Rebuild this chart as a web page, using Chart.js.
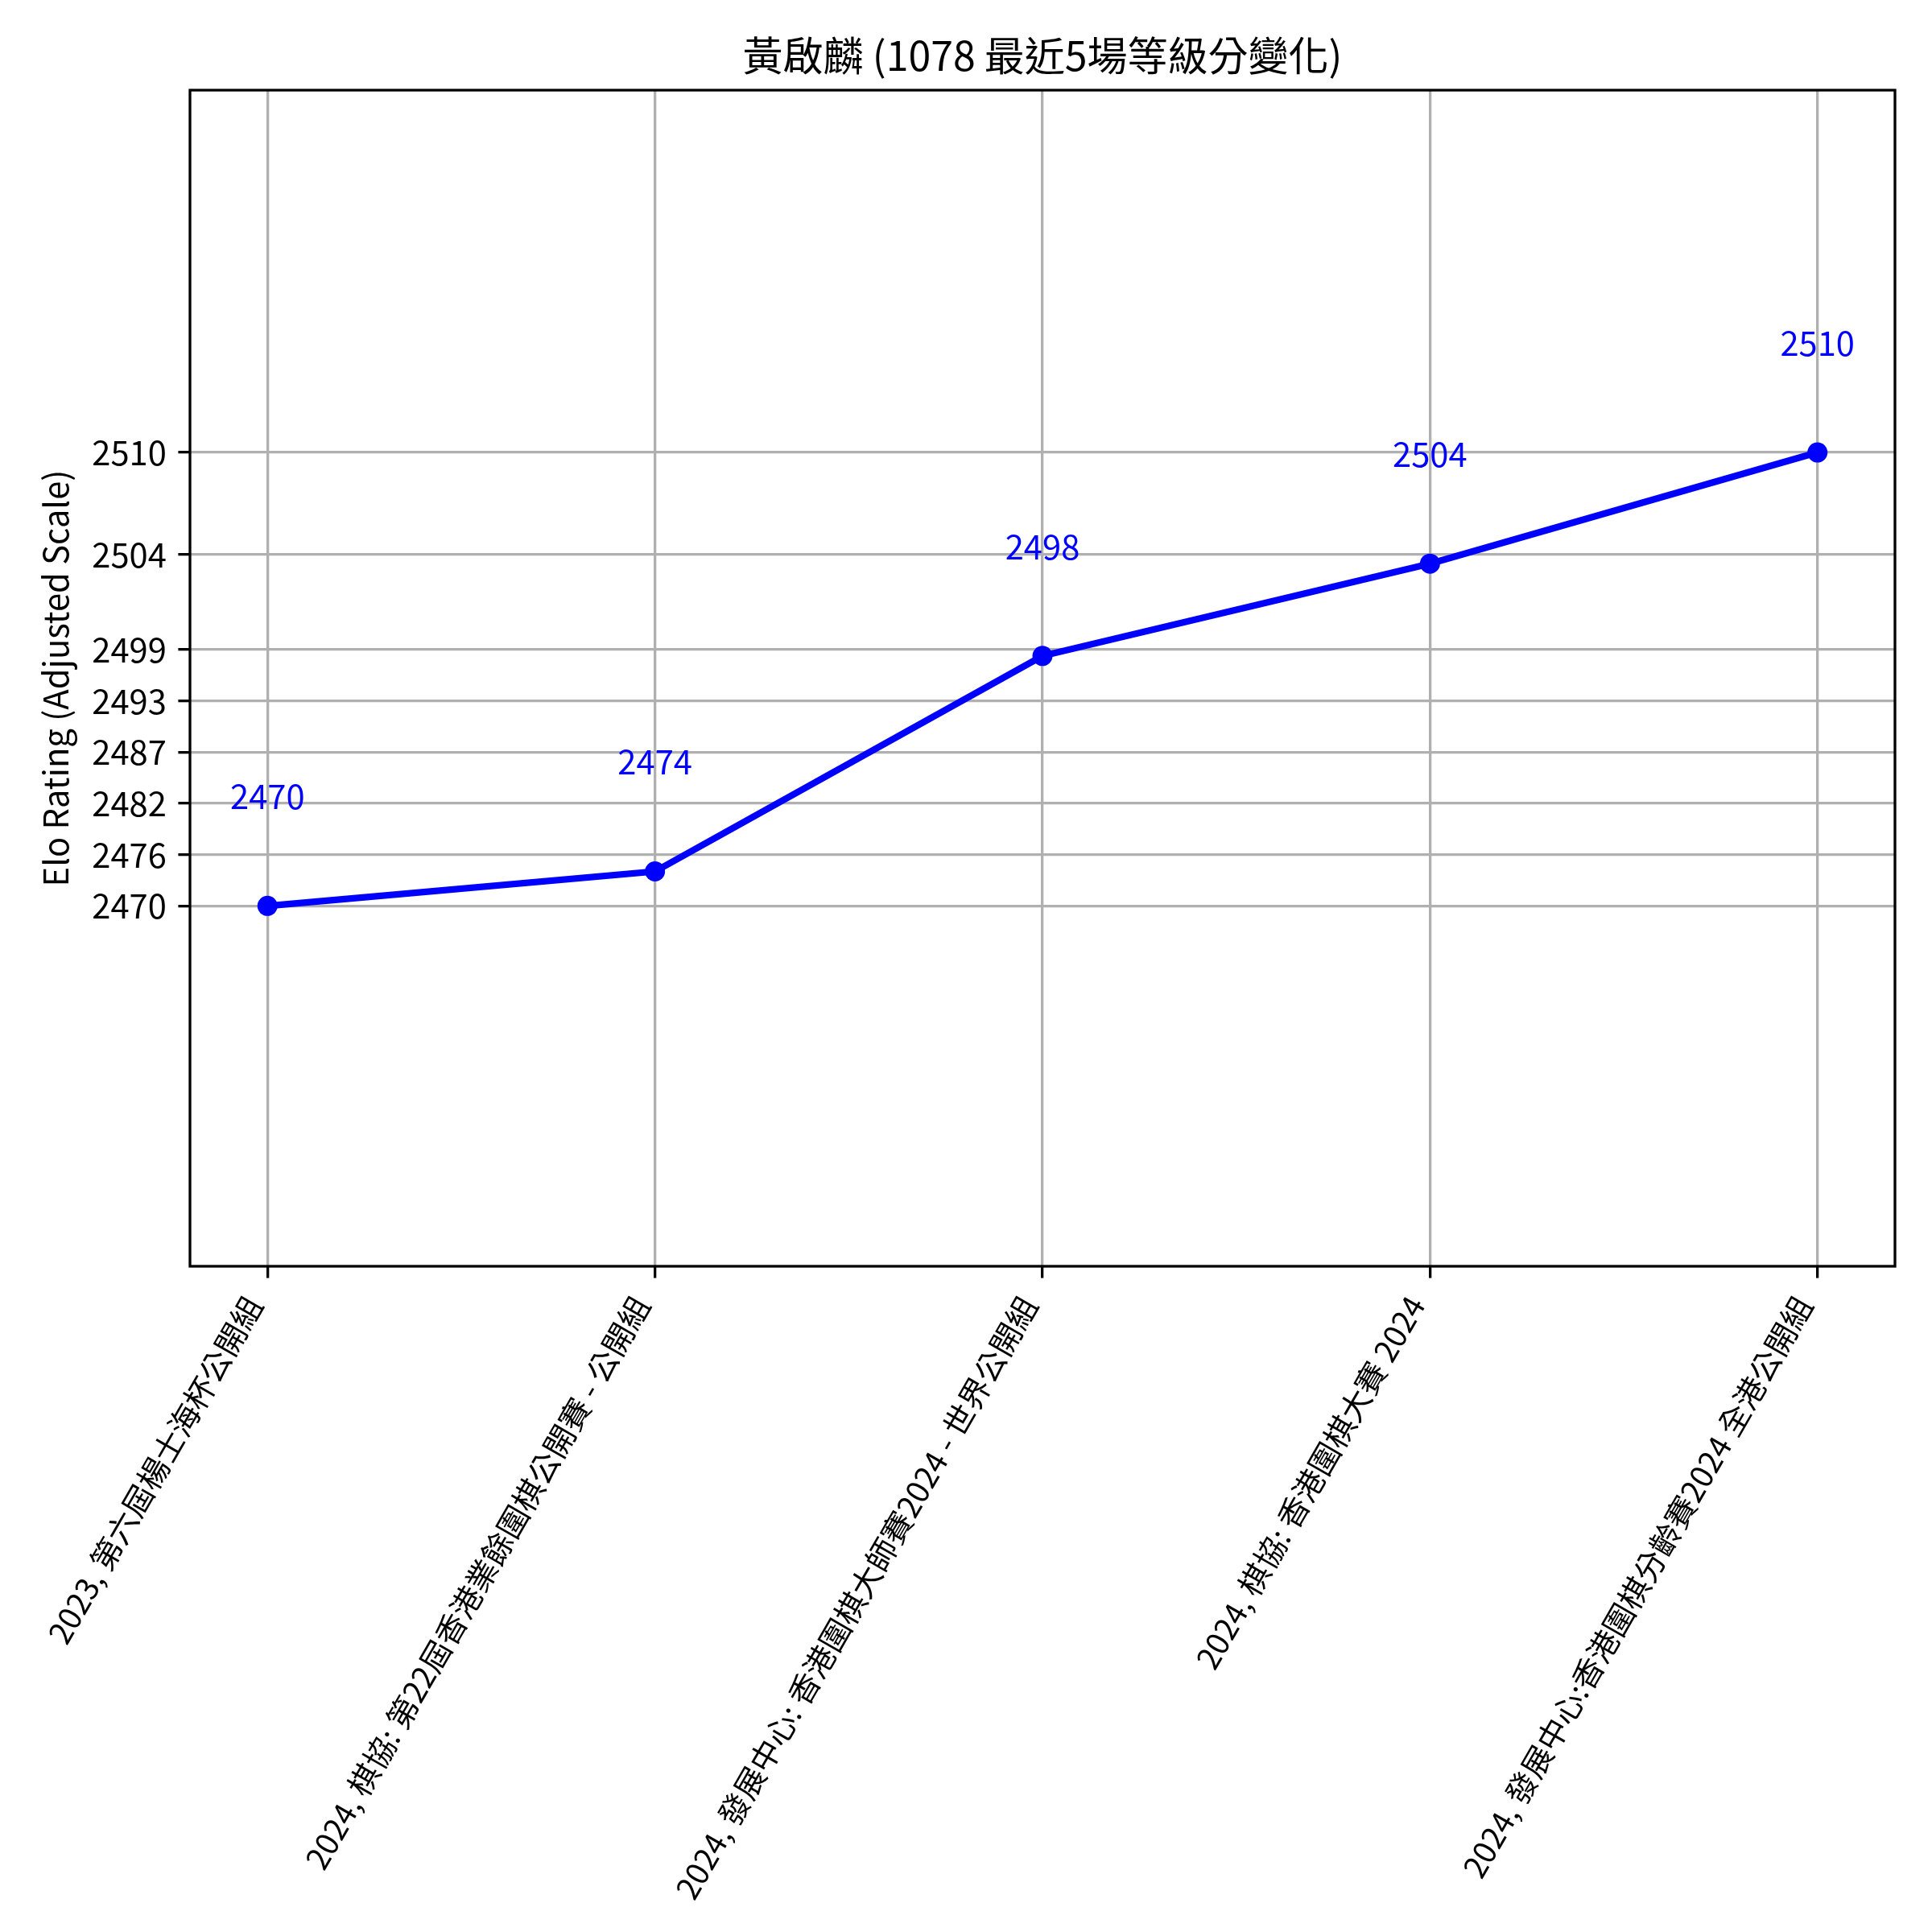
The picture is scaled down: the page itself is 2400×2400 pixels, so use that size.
<!DOCTYPE html>
<html>
<head>
<meta charset="utf-8">
<script src="https://cdn.jsdelivr.net/npm/chart.js@4.4.1/dist/chart.umd.min.js"></script>
<style>
  body { margin: 0; background: #fff; }
  canvas { display: block; }
</style>
</head>
<body>
<canvas id="elo" width="2400" height="2400"></canvas>
<script>
const chartTitle = '黃啟麟 (1078 最近5場等級分變化)';
const events = [
    '2023, 第六屆楊士海杯公開組',
    '2024, 棋協: 第22屆香港業餘圍棋公開賽 - 公開組',
    '2024, 發展中心: 香港圍棋大師賽2024 - 世界公開組',
    '2024, 棋協: 香港圍棋大賽 2024',
    '2024, 發展中心:香港圍棋分齡賽2024 全港公開組'
];
const ratings = [2470, 2473.9, 2498.3, 2503.8, 2510];
const yTickValues = [2470, 2475.8, 2481.6, 2487.4, 2493.2, 2499, 2504.3, 2510];
const yTickLabels = ['2470', '2476', '2482', '2487', '2493', '2499', '2504', '2510'];

const CJK = '"Noto Sans CJK TC", "Noto Sans", sans-serif';

// "adjusted scale": everything below 2499 is squeezed
const Y_BREAK = 2499;
const LOWER_WEIGHT = 0.4925;

function adjust(v) {
    return v <= Y_BREAK ? (v - Y_BREAK) * LOWER_WEIGHT : v - Y_BREAK;
}
function unadjust(t) {
    return t <= 0 ? t / LOWER_WEIGHT + Y_BREAK : t + Y_BREAK;
}

class AdjustedScale extends Chart.LinearScale {
    getPixelForValue(value) {
        if (value === null || isNaN(value)) return NaN;
        const t0 = adjust(this.min), t1 = adjust(this.max);
        return this.getPixelForDecimal((adjust(value) - t0) / (t1 - t0));
    }
    getValueForPixel(pixel) {
        const t0 = adjust(this.min), t1 = adjust(this.max);
        return unadjust(t0 + this.getDecimalForPixel(pixel) * (t1 - t0));
    }
}
AdjustedScale.id = 'adjusted';
AdjustedScale.defaults = Chart.LinearScale.defaults;
Chart.register(AdjustedScale);

// title centred over the plot area, plus the axes frame
const frame = {
    id: 'frame',
    afterDatasetsDraw(chart) {
        const { ctx, chartArea: a } = chart;
        ctx.save();
        ctx.strokeStyle = '#000';
        ctx.lineWidth = 3.3;
        ctx.strokeRect(a.left, a.top, a.right - a.left, a.bottom - a.top);
        ctx.fillStyle = '#000';
        ctx.font = '50px ' + CJK;
        ctx.textAlign = 'center';
        ctx.textBaseline = 'middle';
        ctx.fillText(chartTitle, (a.left + a.right) / 2, 69);
        ctx.restore();
    }
};

const valueLabels = {
    id: 'valueLabels',
    afterDatasetsDraw(chart) {
        const ctx = chart.ctx;
        ctx.save();
        ctx.font = '41.7px ' + CJK;
        ctx.fillStyle = 'blue';
        ctx.textAlign = 'center';
        ctx.textBaseline = 'middle';
        chart.getDatasetMeta(0).data.forEach((pt, i) => {
            ctx.fillText(String(Math.round(ratings[i])), pt.x, pt.y - 136);
        });
        ctx.restore();
    }
};

const gridStyle = {
    color: '#b0b0b0',
    lineWidth: 3.3,
    tickColor: '#000',
    tickLength: 14.6,
    tickWidth: 3.3
};

new Chart(document.getElementById('elo'), {
    type: 'line',
    data: {
        datasets: [{
            data: ratings.map((r, i) => ({ x: i, y: r })),
            borderColor: 'blue',
            backgroundColor: 'blue',
            borderWidth: 8.3,
            pointRadius: 12.5,
            pointBorderWidth: 0,
            pointBackgroundColor: 'blue',
            tension: 0,
            clip: false
        }]
    },
    options: {
        responsive: false,
        devicePixelRatio: 1,
        animation: false,
        layout: { padding: { left: 0, right: 46, top: 112, bottom: 0 } },
        plugins: {
            legend: { display: false },
            tooltip: { enabled: false },
            title: { display: false }
        },
        scales: {
            x: {
                type: 'linear',
                min: -0.2,
                max: 4.2,
                afterBuildTicks: s => { s.ticks = events.map((e, i) => ({ value: i })); },
                afterFit: s => { s.height = 827; },
                grid: gridStyle,
                border: { display: false },
                ticks: {
                    autoSkip: false,
                    minRotation: 60,
                    maxRotation: 60,
                    padding: 14.6,
                    labelOffset: -17,
                    color: '#000',
                    font: { family: CJK, size: 38.5 },
                    callback: v => events[v]
                }
            },
            y: {
                type: 'adjusted',
                min: 2429.2,
                max: 2530.2,
                afterBuildTicks: s => { s.ticks = yTickValues.map(v => ({ value: v })); },
                afterFit: s => { s.width = 236; },
                grid: gridStyle,
                border: { display: false },
                ticks: {
                    padding: 14.6,
                    color: '#000',
                    font: { family: CJK, size: 41.7 },
                    callback: (v, i) => yTickLabels[i]
                },
                title: {
                    display: true,
                    text: 'Elo Rating (Adjusted Scale)',
                    color: '#000',
                    font: { family: CJK, size: 41.7, lineHeight: 1.2 },
                    padding: { top: 44, bottom: 0 }
                }
            }
        }
    },
    plugins: [frame, valueLabels]
});
</script>
</body>
</html>
